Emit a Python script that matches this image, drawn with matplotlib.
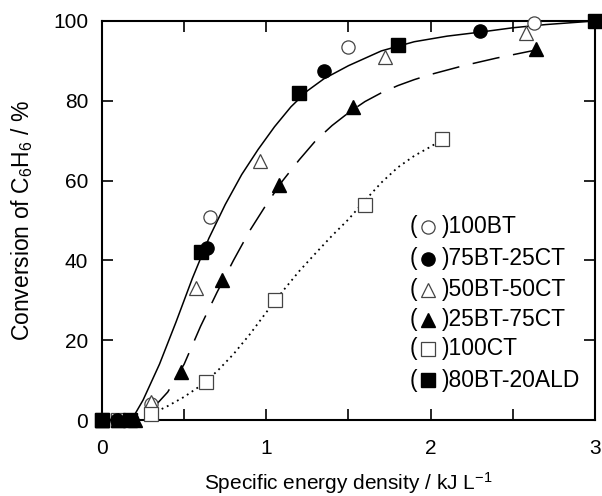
import matplotlib
matplotlib.use('Agg')
import matplotlib.pyplot as plt
from matplotlib.ticker import MultipleLocator

plt.rcParams['font.family'] = ['Liberation Sans', 'DejaVu Sans']
plt.rcParams['mathtext.fontset'] = 'custom'
plt.rcParams['mathtext.rm'] = 'Liberation Sans'
plt.rcParams['mathtext.it'] = 'Liberation Sans'

# measured points (x: kJ/L, y: %)
bt100_x = [0.0, 0.1, 0.3, 0.66, 1.5, 2.63]
bt100_y = [0, 0, 4, 51, 93.5, 99.5]
bt75_x = [0.0, 0.09, 0.18, 0.64, 1.35, 2.3]
bt75_y = [0, 0, 0, 43, 87.5, 97.5]
bt50_x = [0.0, 0.1, 0.3, 0.57, 0.96, 1.72, 2.58]
bt50_y = [0, 0, 4.5, 33, 65, 91, 97]
bt25_x = [0.0, 0.1, 0.2, 0.48, 0.73, 1.08, 1.53, 2.64]
bt25_y = [0, 0, 0, 12, 35, 59, 78.5, 93]
ct100_x = [0.0, 0.1, 0.3, 0.63, 1.05, 1.6, 2.07]
ct100_y = [0, 0, 1.5, 9.5, 30, 54, 70.5]
ald_x = [0.0, 0.17, 0.6, 1.2, 1.8, 3.0]
ald_y = [0, 0, 42, 82, 94, 100]

# guide curves
solid_x = [0.18, 0.25, 0.35, 0.45, 0.55, 0.65, 0.75, 0.85, 0.95, 1.05, 1.15,
           1.25, 1.35, 1.5, 1.7, 1.9, 2.1, 2.3, 2.5, 2.7, 3.0]
solid_y = [0, 5, 14, 24.5, 35.5, 45.5, 54, 61.5, 67.8, 73.5, 78.5,
           82.5, 85.5, 88.8, 92.5, 94.8, 96.2, 97.2, 98.3, 99.1, 100]
dash_x = [0.3, 0.4, 0.5, 0.6, 0.7, 0.8, 0.9, 1.0, 1.1, 1.2, 1.3, 1.4, 1.5,
          1.6, 1.7, 1.8, 1.9, 2.0, 2.2, 2.4, 2.65]
dash_y = [2.5, 7, 14, 23.5, 32, 40, 47.5, 54, 60, 65.2, 70, 73.8, 77,
          79.8, 82, 83.8, 85.3, 86.6, 88.8, 90.7, 92.8]
dot_x = [0.3, 0.4, 0.5, 0.6, 0.7, 0.8, 0.9, 1.0, 1.1, 1.2, 1.3, 1.4, 1.5,
         1.6, 1.7, 1.8, 1.9, 2.0, 2.07]
dot_y = [1.5, 3.5, 5.8, 8.6, 12.2, 16.5, 21.5, 27, 32.3, 37.3, 41.8, 46.2, 50.3,
         55, 59.5, 63.3, 66.2, 68.5, 70.3]

legend_labels = ['100BT', '75BT-25CT', '50BT-50CT', '25BT-75CT', '100CT', '80BT-20ALD']


def main():
    fig = plt.figure(figsize=(6.02, 4.96), dpi=100)
    ax = fig.add_axes([0.1694, 0.1532, 0.8190, 0.8045])

    ax.plot(solid_x, solid_y, color='black', lw=1.1)
    ax.plot(dash_x, dash_y, color='black', lw=1.1, dashes=(18, 9))
    ax.plot(dot_x, dot_y, color='black', lw=1.3, dashes=(1, 2.2))

    ms = 9.5
    open_kw = dict(linestyle='none', mfc='white', mec='#444444', mew=0.9, ms=ms, clip_on=False, zorder=3)
    fill_kw = dict(linestyle='none', color='black', ms=ms, clip_on=False, zorder=4)
    styles = [
        (bt100_x, bt100_y, 'o', open_kw),
        (bt50_x, bt50_y, '^', open_kw),
        (ct100_x, ct100_y, 's', open_kw),
        (bt75_x, bt75_y, 'o', fill_kw),
        (bt25_x, bt25_y, '^', fill_kw),
        (ald_x, ald_y, 's', fill_kw),
    ]
    for x, y, m, kw in styles:
        ax.plot(x, y, marker=m, **kw)

    # legend drawn as "( marker )label"
    leg_markers = [('o', open_kw), ('o', fill_kw), ('^', open_kw),
                   ('^', fill_kw), ('s', open_kw), ('s', fill_kw)]
    rows = [0.484, 0.404, 0.326, 0.251, 0.178, 0.100]
    for (m, kw), label, yy in zip(leg_markers, legend_labels, rows):
        kw2 = dict(kw)
        kw2['ms'] = 9.5
        ax.text(0.631, yy, '(', transform=ax.transAxes, ha='center', va='center', fontsize=16.5)
        ax.plot([0.661], [yy], marker=m, transform=ax.transAxes, **kw2)
        ax.text(0.690, yy, ')' + label, transform=ax.transAxes, ha='left', va='center', fontsize=16.5)

    ax.set_xlim(0, 3)
    ax.set_ylim(0, 100)
    ax.xaxis.set_major_locator(MultipleLocator(1))
    ax.xaxis.set_minor_locator(MultipleLocator(0.5))
    ax.yaxis.set_major_locator(MultipleLocator(20))
    ax.tick_params(which='both', direction='in', top=True, right=True,
                   length=8, width=1.2, labelsize=15)
    ax.tick_params(axis='x', which='both', pad=14)
    ax.tick_params(axis='y', which='both', pad=10)
    for sp in ax.spines.values():
        sp.set_linewidth(1.5)

    ax.set_xlabel('Specific energy density / kJ L$^{\\mathrm{-1}}$', fontsize=15)
    ax.set_ylabel('Conversion of C$_{\\mathrm{6}}$H$_{\\mathrm{6}}$ / %', fontsize=16.5)
    ax.yaxis.set_label_coords(-0.135, 0.5)
    ax.xaxis.set_label_coords(0.5, -0.125)

    fig.savefig('out.png', dpi=100)


if __name__ == '__main__':
    main()
